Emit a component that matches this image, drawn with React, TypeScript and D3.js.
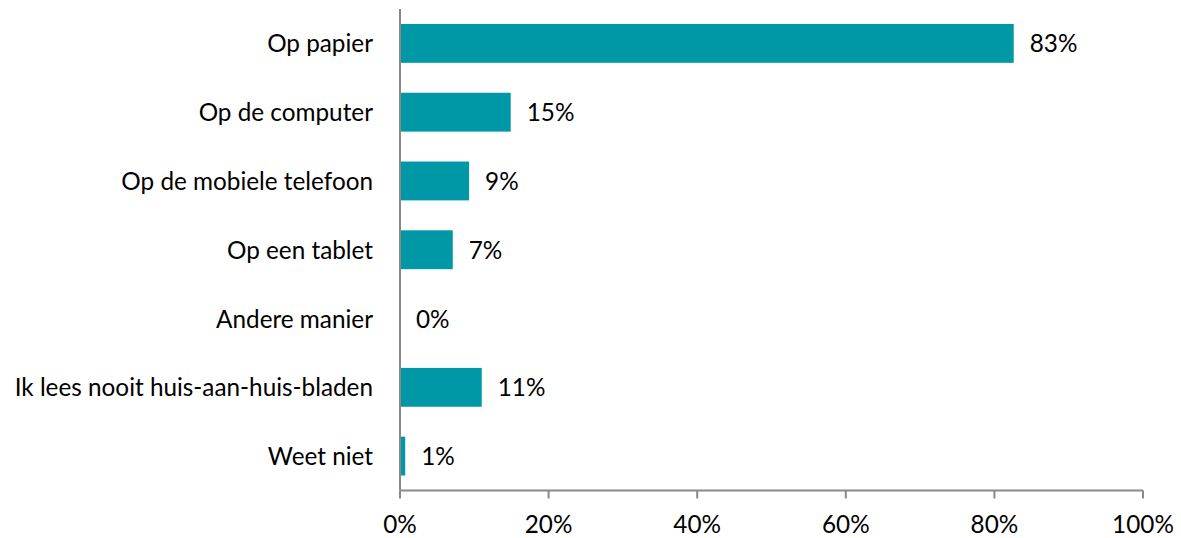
import React from "react";
import * as d3 from "d3";

const categories = [
  "Op papier",
  "Op de computer",
  "Op de mobiele telefoon",
  "Op een tablet",
  "Andere manier",
  "Ik lees nooit huis-aan-huis-bladen",
  "Weet niet",
];
const values = [82.6, 14.9, 9.3, 7.1, 0, 11.0, 0.7];
const valueLabels = ["83%", "15%", "9%", "7%", "0%", "11%", "1%"];
const xTicks = [0, 20, 40, 60, 80, 100];

const W = 1181;
const H = 538;
const left = 400;
const right = 1143;
const top = 9;
const bottom = 490.5;
const FONT = "Lato, sans-serif";
const FS = 24.3;

export default function App() {
  const x = d3.scaleLinear().domain([0, 100]).range([left, right]);
  const y = d3.scaleBand<string>().domain(categories).range([top, bottom]).paddingInner(0.435).paddingOuter(0.2175);
  return (
    <svg width={W} height={H} style={{ position: "absolute", left: 0, top: 0 }}>
      <rect width={W} height={H} fill="#fff" />
      {categories.map((c, i) => (
        <g key={c}>
          <rect x={x(0)} y={y(c)!} width={x(values[i]) - x(0)} height={y.bandwidth()} fill="#0097A7" />
          <text x={left - 27} y={y(c)! + y.bandwidth() / 2 + 9} textAnchor="end" fontFamily={FONT} fontSize={FS} fill="#000">
            {c}
          </text>
          <text x={x(values[i]) + 16} y={y(c)! + y.bandwidth() / 2 + 9} fontFamily={FONT} fontSize={FS} fill="#000">
            {valueLabels[i]}
          </text>
        </g>
      ))}
      <line x1={left} x2={left} y1={top} y2={bottom} stroke="#898989" strokeWidth={2} />
      <line x1={left} x2={right} y1={bottom} y2={bottom} stroke="#898989" strokeWidth={2} />
      {xTicks.map((t) => (
        <g key={t}>
          <line x1={x(t)} x2={x(t)} y1={bottom} y2={bottom + 8} stroke="#898989" strokeWidth={2} />
          <text x={x(t)} y={532.5} textAnchor="middle" fontFamily={FONT} fontSize={FS} fill="#000">
            {t}%
          </text>
        </g>
      ))}
    </svg>
  );
}
